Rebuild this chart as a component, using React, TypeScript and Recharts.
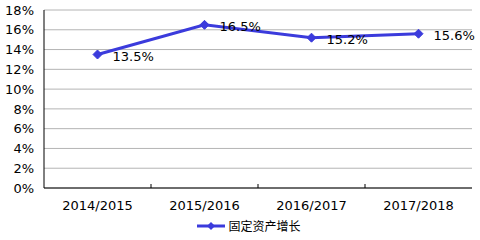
import React from 'react';
import { LineChart, Line, XAxis, YAxis, CartesianGrid, Legend, LabelList } from 'recharts';

const categories = ['2014/2015', '2015/2016', '2016/2017', '2017/2018'];
const growth = [13.5, 16.5, 15.2, 15.6];
const yTicks = [0, 2, 4, 6, 8, 10, 12, 14, 16, 18];
const seriesName = '固定资产增长';

const data = categories.map((c, i) => ({ cat: c, v: growth[i] }));

const COLOR = '#3b3bdc';
const FONT = '"DejaVu Sans", Verdana, sans-serif';

const Diamond = (props: any) => {
  const { cx, cy } = props;
  if (cx == null || cy == null) return null;
  const r = 4.5;
  return (
    <polygon
      points={`${cx},${cy - r} ${cx + r},${cy} ${cx},${cy + r} ${cx - r},${cy}`}
      fill={COLOR}
      stroke={COLOR}
    />
  );
};

const XTick = (props: any) => {
  const { x, y, payload, index } = props;
  const half = payload && payload.offset ? payload.offset : 0;
  return (
    <g>
      <text x={x} y={y + 17} textAnchor="middle" dominantBaseline="central" fill="#000" fontSize={13} fontFamily={FONT}>
        {payload.value}
      </text>
      {index < categories.length - 1 && half > 0 ? (
        <line x1={x + half} x2={x + half} y1={y} y2={y - 4} stroke="#000" strokeWidth={1} />
      ) : null}
    </g>
  );
};

const ValueLabel = (props: any) => {
  const { x, y, value } = props;
  return (
    <text x={x + 15} y={y + 2} dominantBaseline="central" textAnchor="start" fill="#000" fontSize={13} fontFamily={FONT}>
      {`${Number(value).toFixed(1)}%`}
    </text>
  );
};

const LegendContent = () => (
  <div style={{ display: 'flex', justifyContent: 'center', alignItems: 'center', height: 20, marginLeft: 26 }}>
    <svg width={30} height={12} style={{ marginRight: 1 }}>
      <line x1={0} x2={28} y1={6} y2={6} stroke={COLOR} strokeWidth={3} />
      <polygon points="14,2 18,6 14,10 10,6" fill={COLOR} />
    </svg>
    <span style={{ fontFamily: '"Noto Sans CJK SC", sans-serif', fontSize: 12, color: '#000', lineHeight: '20px' }}>{seriesName}</span>
  </div>
);

export default function App() {
  return (
    <div style={{ position: 'absolute', left: 0, top: 0, width: 480, height: 240, background: '#fff' }}>
      <LineChart width={480} height={240} data={data} margin={{ top: 10, right: 8, left: 0, bottom: 4 }}>
        <CartesianGrid vertical={false} stroke="#b4b4b4" strokeWidth={1} />
        <XAxis
          dataKey="cat"
          type="category"
          scale="band"
          axisLine={{ stroke: '#000' }}
          tickLine={false}
          tickSize={0}
          tickMargin={0}
          height={28}
          interval={0}
          tick={<XTick />}
        />
        <XAxis xAxisId="top" dataKey="cat" type="category" scale="band" orientation="top" height={0} tick={false} tickLine={false} axisLine={{ stroke: '#000' }} />
        <YAxis
          domain={[0, 18]}
          ticks={yTicks}
          width={44}
          axisLine={{ stroke: '#000' }}
          tickLine={false}
          tickSize={0}
          tickMargin={10}
          interval={0}
          tickFormatter={(v: number) => `${v}%`}
          tick={{ fill: '#000', fontSize: 13, fontFamily: FONT }}
        />
        <YAxis yAxisId="right" orientation="right" domain={[0, 18]} width={0} tick={false} tickLine={false} axisLine={{ stroke: '#000' }} />
        <Legend verticalAlign="bottom" height={20} wrapperStyle={{ height: 20 }} content={<LegendContent />} />
        <Line
          type="linear"
          dataKey="v"
          name={seriesName}
          stroke={COLOR}
          strokeWidth={3}
          dot={<Diamond />}
          activeDot={false}
          isAnimationActive={false}
        >
          <LabelList dataKey="v" content={<ValueLabel />} />
        </Line>
      </LineChart>
    </div>
  );
}
